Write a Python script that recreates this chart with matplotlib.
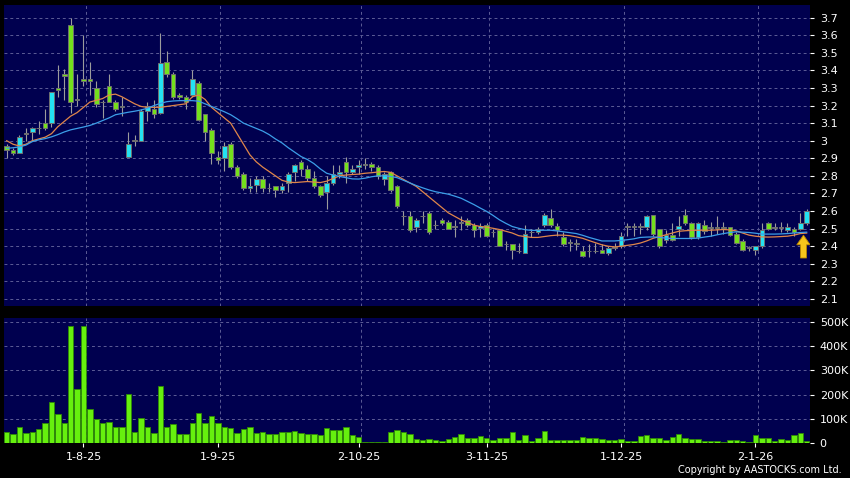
import numpy as np
import matplotlib
matplotlib.use("Agg")
import matplotlib.pyplot as plt

plt.rcParams['font.family'] = ['DejaVu Sans']

# daily candles (open, high, low, close)
opens = [2.97, 2.95, 2.93, 3.04, 3.05, 3.07, 3.10, 3.10, 3.30, 3.38,
         3.66, 3.23, 3.35, 3.35, 3.30, 3.22, 3.31, 3.22, 3.19, 2.91,
         3.00, 3.00, 3.17, 3.18, 3.16, 3.45, 3.38, 3.26, 3.25, 3.26,
         3.33, 3.15, 3.06, 2.91, 2.90, 2.98, 2.85, 2.81, 2.73, 2.75,
         2.78, 2.73, 2.74, 2.72, 2.76, 2.82, 2.88, 2.84, 2.79, 2.74,
         2.71, 2.76, 2.81, 2.88, 2.82, 2.85, 2.86, 2.87, 2.85, 2.78,
         2.82, 2.74, 2.57, 2.57, 2.51, 2.57, 2.59, 2.52, 2.55, 2.54,
         2.51, 2.53, 2.55, 2.52, 2.505, 2.52, 2.48, 2.49, 2.41, 2.41,
         2.37, 2.36, 2.48, 2.48, 2.52, 2.56, 2.515, 2.45, 2.42, 2.42,
         2.37, 2.37, 2.37, 2.38, 2.36, 2.39, 2.40, 2.51, 2.51, 2.51,
         2.51, 2.58, 2.50, 2.435, 2.465, 2.50, 2.58, 2.53, 2.45, 2.52,
         2.505, 2.51, 2.51, 2.51, 2.47, 2.43, 2.39, 2.38, 2.40, 2.53,
         2.505, 2.505, 2.49, 2.50, 2.50, 2.53]
highs = [2.98, 2.96, 3.03, 3.07, 3.08, 3.11, 3.18, 3.28, 3.43, 3.41,
         3.70, 3.38, 3.60, 3.45, 3.34, 3.23, 3.38, 3.23, 3.25, 3.05,
         3.03, 3.18, 3.22, 3.23, 3.61, 3.51, 3.39, 3.27, 3.26, 3.40,
         3.34, 3.15, 3.07, 2.94, 2.99, 2.99, 2.86, 2.82, 2.79, 2.80,
         2.80, 2.76, 2.74, 2.76, 2.82, 2.87, 2.89, 2.86, 2.83, 2.75,
         2.80, 2.86, 2.86, 2.91, 2.86, 2.89, 2.90, 2.88, 2.86, 2.82,
         2.83, 2.75, 2.60, 2.60, 2.56, 2.60, 2.60, 2.55, 2.56, 2.55,
         2.55, 2.57, 2.56, 2.53, 2.53, 2.53, 2.50, 2.49, 2.43, 2.41,
         2.42, 2.52, 2.50, 2.51, 2.59, 2.61, 2.53, 2.48, 2.44, 2.44,
         2.40, 2.41, 2.42, 2.41, 2.40, 2.42, 2.48, 2.53, 2.53, 2.53,
         2.58, 2.58, 2.50, 2.49, 2.53, 2.57, 2.61, 2.54, 2.54, 2.55,
         2.54, 2.57, 2.54, 2.51, 2.48, 2.44, 2.40, 2.40, 2.53, 2.54,
         2.53, 2.54, 2.53, 2.51, 2.59, 2.61]
lows = [2.90, 2.92, 2.93, 3.00, 3.00, 3.04, 3.06, 3.08, 3.25, 3.23,
        3.16, 3.20, 3.31, 3.26, 3.19, 3.13, 3.22, 3.17, 3.14, 2.91,
        2.97, 3.00, 3.11, 3.13, 3.15, 3.36, 3.24, 3.24, 3.18, 3.25,
        3.11, 3.00, 2.87, 2.87, 2.83, 2.84, 2.79, 2.72, 2.71, 2.71,
        2.71, 2.71, 2.68, 2.70, 2.71, 2.77, 2.80, 2.77, 2.73, 2.68,
        2.61, 2.75, 2.79, 2.76, 2.81, 2.81, 2.84, 2.83, 2.78, 2.75,
        2.71, 2.62, 2.52, 2.48, 2.48, 2.53, 2.47, 2.50, 2.52, 2.50,
        2.45, 2.49, 2.51, 2.45, 2.45, 2.45, 2.45, 2.40, 2.38, 2.33,
        2.36, 2.36, 2.45, 2.47, 2.51, 2.51, 2.46, 2.40, 2.37, 2.38,
        2.34, 2.34, 2.36, 2.36, 2.35, 2.38, 2.39, 2.46, 2.46, 2.47,
        2.49, 2.46, 2.39, 2.42, 2.43, 2.46, 2.52, 2.44, 2.44, 2.47,
        2.46, 2.47, 2.47, 2.46, 2.41, 2.37, 2.37, 2.35, 2.39, 2.49,
        2.49, 2.48, 2.48, 2.46, 2.49, 2.52]
closes = [2.95, 2.93, 3.02, 3.04, 3.07, 3.07, 3.07, 3.28, 3.29, 3.37,
          3.22, 3.24, 3.34, 3.34, 3.21, 3.22, 3.22, 3.18, 3.20, 2.98,
          3.00, 3.17, 3.20, 3.15, 3.44, 3.38, 3.25, 3.25, 3.22, 3.35,
          3.12, 3.05, 2.93, 2.89, 2.97, 2.85, 2.80, 2.73, 2.74, 2.78,
          2.73, 2.73, 2.72, 2.74, 2.81, 2.86, 2.84, 2.79, 2.74, 2.69,
          2.76, 2.81, 2.82, 2.82, 2.84, 2.86, 2.87, 2.85, 2.80, 2.81,
          2.72, 2.63, 2.57, 2.49, 2.55, 2.57, 2.48, 2.52, 2.53, 2.50,
          2.51, 2.54, 2.52, 2.49, 2.515, 2.46, 2.48, 2.40, 2.41, 2.38,
          2.37, 2.47, 2.48, 2.50, 2.58, 2.52, 2.49, 2.41, 2.42, 2.41,
          2.345, 2.37, 2.37, 2.36, 2.39, 2.395, 2.46, 2.51, 2.51, 2.51,
          2.57, 2.47, 2.40, 2.465, 2.435, 2.515, 2.53, 2.455, 2.53, 2.485,
          2.51, 2.505, 2.505, 2.465, 2.42, 2.38, 2.39, 2.40, 2.49, 2.50,
          2.505, 2.505, 2.51, 2.48, 2.53, 2.60]

# moving averages as drawn (short = orange, long = blue)
ma_short = [3.00, 2.98, 2.97, 2.98, 3.00, 3.01, 3.02, 3.04, 3.08, 3.11,
            3.14, 3.16, 3.19, 3.22, 3.23, 3.24, 3.26, 3.265, 3.25, 3.23,
            3.21, 3.195, 3.19, 3.19, 3.19, 3.195, 3.20, 3.205, 3.21, 3.25,
            3.26, 3.235, 3.19, 3.16, 3.13, 3.10, 3.04, 2.98, 2.92, 2.88,
            2.85, 2.825, 2.80, 2.775, 2.765, 2.762, 2.765, 2.768, 2.765, 2.762,
            2.77, 2.785, 2.80, 2.805, 2.808, 2.81, 2.815, 2.818, 2.822, 2.825,
            2.82, 2.80, 2.78, 2.76, 2.74, 2.71, 2.68, 2.65, 2.62, 2.59,
            2.57, 2.55, 2.535, 2.52, 2.512, 2.508, 2.502, 2.495, 2.485, 2.475,
            2.46, 2.455, 2.45, 2.45, 2.455, 2.46, 2.463, 2.463, 2.46, 2.453,
            2.445, 2.432, 2.42, 2.408, 2.40, 2.396, 2.40, 2.405, 2.41, 2.418,
            2.43, 2.445, 2.455, 2.465, 2.475, 2.485, 2.488, 2.49, 2.491, 2.491,
            2.491, 2.493, 2.495, 2.493, 2.487, 2.475, 2.463, 2.457, 2.453, 2.452,
            2.453, 2.455, 2.457, 2.463, 2.472, 2.475]
ma_long = [2.957, 2.96, 2.965, 2.975, 2.995, 3.005, 3.012, 3.022, 3.035, 3.05,
           3.062, 3.07, 3.078, 3.087, 3.10, 3.115, 3.13, 3.148, 3.155, 3.162,
           3.168, 3.175, 3.185, 3.20, 3.212, 3.222, 3.226, 3.228, 3.228, 3.228,
           3.225, 3.21, 3.195, 3.18, 3.165, 3.148, 3.125, 3.10, 3.085, 3.07,
           3.055, 3.035, 3.01, 2.988, 2.96, 2.935, 2.91, 2.893, 2.87, 2.84,
           2.815, 2.805, 2.797, 2.79, 2.783, 2.782, 2.787, 2.795, 2.80, 2.80,
           2.797, 2.79, 2.775, 2.76, 2.745, 2.732, 2.72, 2.71, 2.703, 2.696,
           2.685, 2.673, 2.655, 2.637, 2.617, 2.598, 2.575, 2.55, 2.53, 2.512,
           2.502, 2.494, 2.49, 2.49, 2.491, 2.491, 2.487, 2.482, 2.477, 2.472,
           2.462, 2.45, 2.44, 2.43, 2.43, 2.43, 2.433, 2.437, 2.442, 2.45,
           2.452, 2.453, 2.45, 2.446, 2.444, 2.444, 2.444, 2.444, 2.446, 2.452,
           2.457, 2.465, 2.472, 2.478, 2.482, 2.48, 2.478, 2.474, 2.469, 2.469,
           2.469, 2.47, 2.472, 2.475, 2.478, 2.48]

# volume in thousands of shares
volume_k = [48, 38, 65, 41, 48, 59, 82, 170, 120, 82,
            481, 225, 484, 139, 98, 82, 89, 68, 68, 202,
            48, 106, 65, 44, 237, 65, 79, 38, 38, 82,
            125, 84, 113, 82, 65, 61, 41, 59, 69, 41,
            45, 38, 38, 45, 46, 49, 41, 38, 38, 34,
            61, 54, 54, 65, 33, 27, 7, 4, 4, 4,
            45, 53, 46, 37, 18, 15, 18, 14, 10, 16,
            27, 37, 21, 21, 30, 21, 14, 21, 23, 48,
            14, 34, 11, 21, 52, 14, 12, 12, 12, 14,
            25, 23, 21, 19, 14, 14, 19, 11, 10, 30,
            34, 21, 21, 14, 27, 37, 23, 18, 18, 11,
            10, 10, 4, 15, 15, 10, 4, 34, 23, 23,
            11, 16, 14, 34, 41, 11]

date_labels = ['1-8-25', '1-9-25', '2-10-25', '3-11-25', '1-12-25', '2-1-26']
date_index = [12, 33, 55, 75, 96, 117]

price_ticks = [2.1, 2.2, 2.3, 2.4, 2.5, 2.6, 2.7, 2.8, 2.9, 3.0,
               3.1, 3.2, 3.3, 3.4, 3.5, 3.6, 3.7]
vol_ticks = [0, 100, 200, 300, 400, 500]

o = np.array(opens)
h = np.array(highs)
l = np.array(lows)
c = np.array(closes)
n = len(c)
x = np.arange(n)

bg = '#00004f'
grid_c = '#5c5c96'
green = '#74e01c'
cyan = '#24e2f2'
flat = '#a8a8a8'

fig = plt.figure(figsize=(8.5, 4.78), dpi=100, facecolor='black')
ax = fig.add_axes([4 / 850, 1 - 306 / 478, 806 / 850, 301 / 478])
axv = fig.add_axes([4 / 850, 1 - 443.3 / 478, 806 / 850, 125.3 / 478])

for a in (ax, axv):
    a.set_facecolor(bg)
    for s in a.spines.values():
        s.set_visible(False)
    a.set_xlim(-0.42, n - 0.48)
    for xi in date_index:
        a.axvline(xi + 0.4, color=grid_c, lw=0.7, ls=(0, (3, 3)), zorder=0)
    a.yaxis.tick_right()
    a.tick_params(axis='y', colors='white', labelsize=8, length=3, width=0.8, pad=4)

# price panel
ax.set_ylim(2.06, 3.772)
ax.set_yticks(price_ticks)
ax.set_yticklabels([f'{v:g}' for v in price_ticks])
for v in price_ticks:
    ax.axhline(v, color=grid_c, lw=0.7, ls=(0, (3, 3)), zorder=0)
ax.set_xticks([])

ax.vlines(x, l, h, color='#9c9c9c', lw=0.8, zorder=2)
body_col = np.where(c > o, cyan, np.where(c < o, green, flat))
bottom = np.minimum(o, c)
height = np.maximum(np.abs(c - o), 0.003)
ax.bar(x, height, bottom=bottom, width=0.72, color=body_col,
       edgecolor='#6f6f6f', linewidth=0.7, zorder=3)

ax.plot(x, ma_short, color='#e0864a', lw=0.9, zorder=4)
ax.plot(x, ma_long, color='#3c9ee8', lw=0.9, zorder=4)

# marker arrow under the last session
ax.arrow(n - 1.5, 2.333, 0, 0.13, width=0.95, head_width=2.1, head_length=0.055,
         length_includes_head=True, fc='#f7c51c', ec='#b98500', lw=0.6, zorder=5)

# volume panel
axv.set_ylim(0, 515)
axv.set_yticks(vol_ticks)
axv.set_yticklabels(['0'] + [f'{v}K' for v in vol_ticks[1:]])
for v in vol_ticks[1:]:
    axv.axhline(v, color=grid_c, lw=0.7, ls=(0, (3, 3)), zorder=0)
axv.bar(x, volume_k, width=0.86, color='#66f00e', edgecolor='#2f8a05',
        linewidth=0.6, zorder=3)
axv.set_xticks(date_index)
axv.set_xticklabels(date_labels)
axv.tick_params(axis='x', colors='white', labelsize=8, length=3, width=0.8, pad=3)

fig.text(842 / 850, 3 / 478, 'Copyright by AASTOCKS.com Ltd.', color='white',
         fontsize=7, ha='right', va='bottom')

fig.savefig('out.png', dpi=100, facecolor='black')
